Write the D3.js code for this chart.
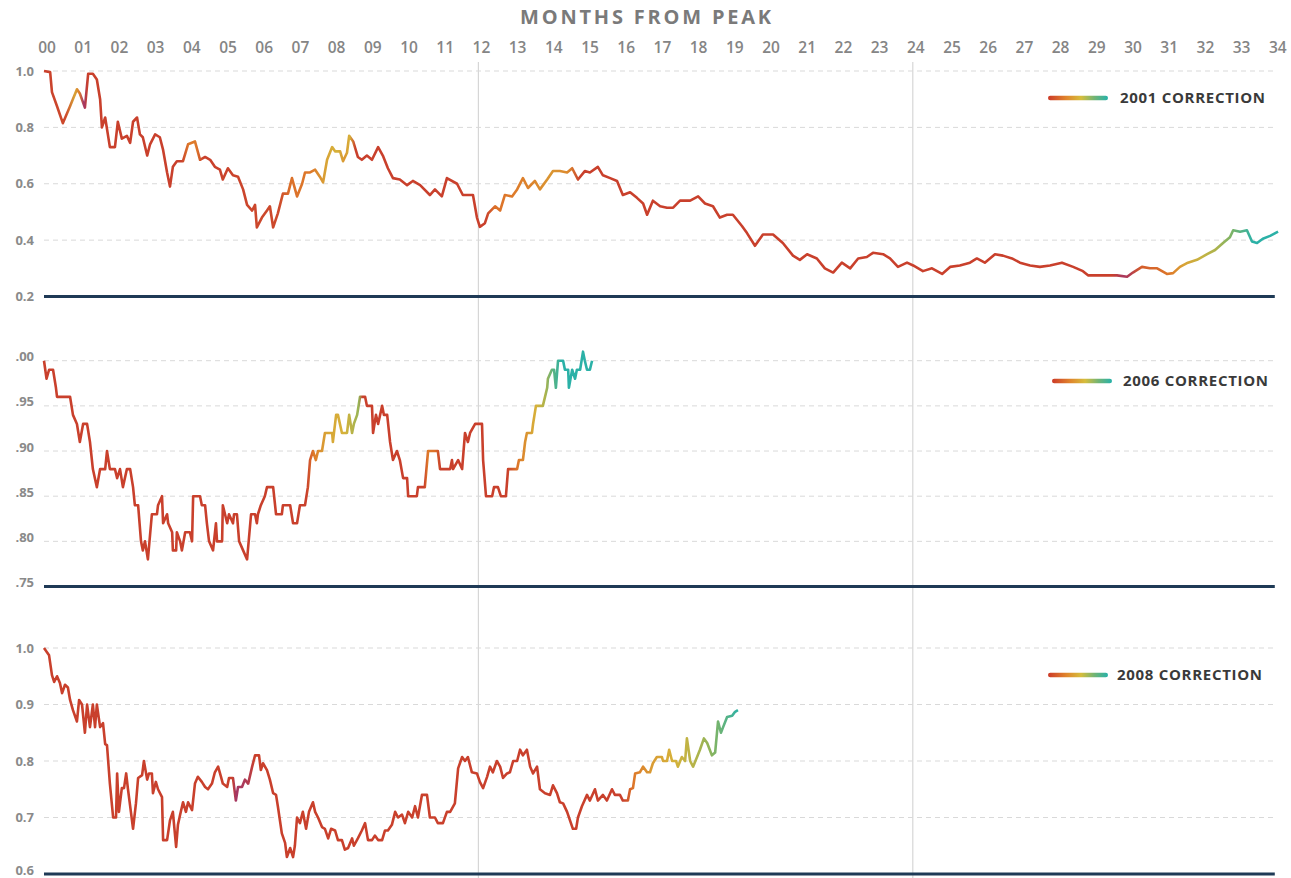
<!DOCTYPE html>
<html>
<head>
<meta charset="utf-8">
<script src="https://cdn.jsdelivr.net/npm/d3@7"></script>
<style>
  body { margin: 0; background: #fff; }
  svg { display: block; font-family: 'Open Sans', 'DejaVu Sans', sans-serif; }
</style>
</head>
<body>
<div id="chart"></div>
<script>
// months on the top axis
const monthTicks = d3.range(0, 35);
const monthLabels = monthTicks.map(m => d3.format('02d')(m));

// [months from peak, value relative to peak]
const series2001 = [
  [0.00,1.00],[0.17,0.996],[0.22,0.925],[0.36,0.875],[0.52,0.815],[0.72,0.875],[0.91,0.935],[0.99,0.92],
  [1.13,0.87],[1.22,0.99],[1.35,0.99],[1.46,0.97],[1.55,0.90],[1.60,0.80],[1.69,0.835],[1.82,0.73],
  [1.96,0.73],[2.04,0.82],[2.15,0.76],[2.29,0.77],[2.38,0.745],[2.46,0.82],[2.57,0.835],[2.65,0.775],
  [2.73,0.765],[2.85,0.70],[2.93,0.74],[3.07,0.775],[3.20,0.765],[3.29,0.72],[3.40,0.64],[3.48,0.59],
  [3.56,0.66],[3.67,0.68],[3.84,0.68],[3.98,0.74],[4.17,0.75],[4.31,0.685],[4.45,0.695],[4.59,0.685],
  [4.72,0.66],[4.86,0.65],[4.94,0.615],[5.08,0.655],[5.22,0.63],[5.36,0.625],[5.50,0.58],[5.61,0.525],
  [5.75,0.505],[5.83,0.525],[5.88,0.445],[6.02,0.48],[6.16,0.505],[6.24,0.52],[6.33,0.445],[6.46,0.495],
  [6.60,0.565],[6.74,0.565],[6.85,0.62],[6.99,0.555],[7.13,0.60],[7.21,0.64],[7.35,0.64],[7.49,0.65],
  [7.62,0.625],[7.71,0.605],[7.82,0.685],[7.96,0.73],[8.04,0.715],[8.18,0.715],[8.26,0.68],[8.37,0.71],
  [8.43,0.77],[8.54,0.75],[8.67,0.695],[8.78,0.685],[8.92,0.70],[9.06,0.685],[9.23,0.73],[9.36,0.70],
  [9.50,0.655],[9.64,0.62],[9.83,0.615],[10.03,0.595],[10.19,0.61],[10.39,0.595],[10.66,0.56],[10.80,0.58],
  [10.99,0.555],[11.13,0.62],[11.41,0.60],[11.57,0.56],[11.85,0.56],[11.96,0.48],[12.04,0.447],[12.18,0.46],
  [12.27,0.495],[12.46,0.52],[12.60,0.505],[12.73,0.56],[12.93,0.555],[13.07,0.58],[13.23,0.62],[13.37,0.585],
  [13.56,0.61],[13.70,0.58],[13.90,0.615],[14.06,0.645],[14.25,0.645],[14.45,0.64],[14.59,0.655],[14.75,0.615],
  [14.94,0.645],[15.08,0.64],[15.30,0.66],[15.44,0.63],[15.64,0.62],[15.83,0.61],[15.99,0.56],[16.19,0.57],
  [16.38,0.55],[16.55,0.53],[16.66,0.49],[16.82,0.54],[17.02,0.52],[17.21,0.515],[17.38,0.515],[17.57,0.54],
  [17.85,0.54],[18.07,0.555],[18.26,0.53],[18.48,0.52],[18.67,0.48],[18.87,0.49],[19.03,0.49],[19.28,0.45],
  [19.42,0.425],[19.64,0.38],[19.86,0.42],[20.14,0.42],[20.41,0.39],[20.69,0.345],[20.88,0.33],[21.08,0.35],
  [21.35,0.335],[21.57,0.30],[21.80,0.285],[22.04,0.32],[22.27,0.30],[22.49,0.335],[22.73,0.34],[22.90,0.355],
  [23.18,0.35],[23.37,0.335],[23.59,0.305],[23.84,0.32],[24.01,0.31],[24.28,0.29],[24.53,0.30],[24.81,0.28],
  [25.03,0.305],[25.30,0.31],[25.58,0.32],[25.77,0.335],[25.99,0.32],[26.27,0.35],[26.49,0.345],[26.74,0.335],
  [26.96,0.32],[27.24,0.31],[27.51,0.305],[27.79,0.31],[28.12,0.32],[28.43,0.305],[28.70,0.29],[28.84,0.275],
  [29.09,0.275],[29.36,0.275],[29.64,0.275],[29.92,0.27],[30.08,0.285],[30.33,0.305],[30.55,0.30],[30.75,0.30],
  [31.02,0.28],[31.19,0.283],[31.38,0.305],[31.60,0.32],[31.85,0.33],[32.13,0.35],[32.35,0.365],[32.57,0.39],
  [32.76,0.41],[32.85,0.435],[33.04,0.43],[33.23,0.435],[33.37,0.395],[33.51,0.39],[33.67,0.405],[33.87,0.415],
  [34.09,0.43]
];

const series2006 = [
  [0.00,1.00],[0.07,0.98],[0.14,0.99],[0.25,0.99],[0.33,0.97],[0.36,0.96],[0.72,0.96],[0.80,0.94],
  [0.91,0.93],[0.99,0.91],[1.08,0.93],[1.19,0.93],[1.27,0.91],[1.35,0.88],[1.46,0.86],[1.55,0.88],
  [1.69,0.88],[1.74,0.90],[1.82,0.88],[1.96,0.88],[2.02,0.87],[2.10,0.88],[2.18,0.86],[2.29,0.88],
  [2.38,0.88],[2.46,0.86],[2.51,0.84],[2.60,0.84],[2.68,0.80],[2.73,0.79],[2.79,0.80],[2.87,0.78],
  [2.98,0.83],[3.12,0.83],[3.15,0.84],[3.26,0.85],[3.29,0.82],[3.40,0.83],[3.43,0.82],[3.54,0.81],
  [3.56,0.79],[3.65,0.79],[3.67,0.81],[3.76,0.80],[3.81,0.79],[3.90,0.81],[4.03,0.81],[4.09,0.80],
  [4.12,0.85],[4.31,0.85],[4.36,0.84],[4.45,0.84],[4.50,0.82],[4.56,0.80],[4.67,0.79],[4.75,0.82],
  [4.78,0.80],[4.92,0.80],[4.94,0.84],[5.06,0.82],[5.11,0.83],[5.22,0.82],[5.25,0.83],[5.33,0.83],
  [5.39,0.80],[5.50,0.79],[5.61,0.78],[5.72,0.83],[5.83,0.83],[5.88,0.82],[5.91,0.83],[5.99,0.84],
  [6.10,0.85],[6.16,0.86],[6.33,0.86],[6.41,0.83],[6.57,0.83],[6.60,0.84],[6.80,0.84],[6.88,0.82],
  [6.99,0.82],[7.07,0.84],[7.21,0.84],[7.29,0.86],[7.35,0.89],[7.43,0.90],[7.51,0.89],[7.57,0.90],
  [7.68,0.90],[7.76,0.92],[7.96,0.92],[7.98,0.91],[8.07,0.94],[8.12,0.94],[8.23,0.92],[8.37,0.92],
  [8.43,0.94],[8.51,0.92],[8.56,0.93],[8.65,0.94],[8.73,0.96],[8.87,0.96],[8.92,0.95],[9.06,0.95],
  [9.09,0.92],[9.17,0.94],[9.23,0.93],[9.34,0.95],[9.39,0.94],[9.48,0.94],[9.56,0.91],[9.64,0.89],
  [9.75,0.90],[9.83,0.89],[9.92,0.87],[10.03,0.87],[10.06,0.85],[10.30,0.85],[10.33,0.86],[10.52,0.86],
  [10.61,0.90],[10.88,0.90],[10.94,0.88],[11.22,0.88],[11.27,0.89],[11.30,0.88],[11.44,0.89],[11.55,0.88],
  [11.63,0.92],[11.71,0.91],[11.77,0.92],[11.91,0.93],[12.10,0.93],[12.13,0.89],[12.21,0.85],[12.38,0.85],
  [12.43,0.86],[12.54,0.86],[12.62,0.85],[12.76,0.85],[12.82,0.88],[13.07,0.88],[13.12,0.89],[13.23,0.89],
  [13.29,0.91],[13.34,0.92],[13.48,0.92],[13.51,0.93],[13.59,0.95],[13.78,0.95],[13.84,0.96],[13.90,0.97],
  [13.92,0.98],[14.03,0.99],[14.09,0.99],[14.14,0.97],[14.20,1.00],[14.34,1.00],[14.39,0.99],[14.48,0.99],
  [14.50,0.97],[14.59,0.99],[14.67,0.98],[14.72,0.99],[14.81,0.99],[14.89,1.01],[14.94,1.00],[15.00,0.99],
  [15.08,0.99],[15.14,1.00]
];

const series2008 = [
  [0.00,1.00],[0.14,0.987],[0.22,0.952],[0.28,0.94],[0.36,0.95],[0.44,0.938],[0.50,0.92],[0.58,0.935],
  [0.66,0.93],[0.72,0.908],[0.80,0.89],[0.91,0.87],[0.97,0.908],[1.05,0.90],[1.13,0.85],[1.19,0.90],
  [1.27,0.86],[1.35,0.90],[1.41,0.86],[1.46,0.90],[1.55,0.86],[1.63,0.867],[1.69,0.83],[1.74,0.828],
  [1.82,0.76],[1.91,0.70],[1.99,0.70],[2.02,0.778],[2.07,0.71],[2.15,0.752],[2.21,0.752],[2.27,0.778],
  [2.32,0.75],[2.38,0.72],[2.46,0.68],[2.54,0.725],[2.60,0.77],[2.71,0.775],[2.76,0.80],[2.85,0.767],
  [2.90,0.778],[2.98,0.778],[3.01,0.743],[3.09,0.763],[3.15,0.75],[3.26,0.736],[3.29,0.66],[3.40,0.66],
  [3.48,0.695],[3.56,0.71],[3.65,0.648],[3.70,0.687],[3.76,0.705],[3.84,0.727],[3.92,0.71],[3.98,0.727],
  [4.09,0.713],[4.17,0.76],[4.25,0.772],[4.36,0.763],[4.45,0.754],[4.53,0.75],[4.64,0.76],[4.72,0.78],
  [4.81,0.79],[4.89,0.772],[4.94,0.76],[5.06,0.754],[5.11,0.77],[5.22,0.77],[5.30,0.73],[5.36,0.754],
  [5.47,0.754],[5.55,0.767],[5.64,0.76],[5.75,0.79],[5.83,0.81],[5.94,0.81],[5.99,0.784],[6.05,0.796],
  [6.16,0.784],[6.24,0.767],[6.33,0.743],[6.41,0.74],[6.46,0.72],[6.57,0.672],[6.66,0.655],[6.71,0.63],
  [6.80,0.646],[6.88,0.63],[6.93,0.65],[6.99,0.70],[7.07,0.69],[7.15,0.71],[7.24,0.68],[7.32,0.71],
  [7.43,0.727],[7.49,0.71],[7.57,0.70],[7.68,0.683],[7.76,0.68],[7.85,0.663],[7.93,0.68],[8.04,0.677],
  [8.12,0.66],[8.23,0.66],[8.31,0.643],[8.40,0.646],[8.51,0.663],[8.56,0.65],[8.67,0.663],[8.78,0.677],
  [8.87,0.69],[8.95,0.66],[9.06,0.66],[9.14,0.668],[9.23,0.66],[9.34,0.66],[9.42,0.677],[9.50,0.677],
  [9.61,0.687],[9.70,0.71],[9.78,0.70],[9.89,0.705],[9.97,0.69],[10.06,0.71],[10.17,0.70],[10.25,0.72],
  [10.33,0.70],[10.44,0.74],[10.58,0.74],[10.66,0.70],[10.80,0.70],[10.88,0.69],[11.02,0.69],[11.13,0.71],
  [11.22,0.71],[11.35,0.725],[11.44,0.787],[11.55,0.807],[11.63,0.80],[11.71,0.807],[11.82,0.78],[11.96,0.778],
  [12.04,0.763],[12.13,0.752],[12.24,0.772],[12.32,0.79],[12.40,0.78],[12.51,0.80],[12.60,0.79],[12.68,0.77],
  [12.79,0.778],[12.87,0.78],[12.96,0.80],[13.07,0.80],[13.15,0.82],[13.23,0.81],[13.34,0.82],[13.43,0.79],
  [13.51,0.778],[13.62,0.79],[13.70,0.75],[13.84,0.743],[13.98,0.74],[14.06,0.757],[14.17,0.743],[14.25,0.727],
  [14.34,0.725],[14.45,0.71],[14.53,0.695],[14.61,0.68],[14.70,0.68],[14.75,0.70],[14.86,0.72],[15.00,0.74],
  [15.08,0.73],[15.22,0.75],[15.30,0.73],[15.44,0.74],[15.55,0.73],[15.69,0.75],[15.77,0.74],[15.91,0.74],
  [15.99,0.73],[16.13,0.73],[16.19,0.75],[16.27,0.752],[16.33,0.778],[16.46,0.78],[16.55,0.79],[16.66,0.78],
  [16.74,0.78],[16.82,0.796],[16.93,0.807],[17.07,0.807],[17.10,0.80],[17.21,0.80],[17.27,0.82],[17.35,0.80],
  [17.46,0.80],[17.51,0.79],[17.62,0.807],[17.71,0.80],[17.76,0.84],[17.85,0.80],[17.93,0.79],[18.04,0.807],
  [18.12,0.82],[18.23,0.84],[18.32,0.832],[18.45,0.81],[18.54,0.815],[18.62,0.87],[18.70,0.85],[18.76,0.86],
  [18.87,0.878],[19.01,0.88],[19.09,0.887],[19.17,0.89]
];

// colour variable along each line: [month, t]  (-1 purple, 0 red, 0.5 yellow, 1 teal)
const colour2001 = [
  [0,0],[0.6,0.05],[0.85,0.45],[0.98,0.3],[1.1,-0.9],[1.2,0],[3.8,0],[4.0,0.3],[4.2,0.3],[4.4,0],
  [6.5,0.05],[6.8,0.25],[7.4,0.3],[7.8,0.45],[8.1,0.5],[8.3,0.4],[8.45,0.5],[8.6,0],[12.2,0],[12.45,0.25],
  [12.9,0.3],[13.5,0.34],[14.0,0.4],[14.5,0.35],[14.8,0],[29.5,0],[29.8,-0.7],[30.0,-0.5],[30.3,0.15],
  [30.8,0.22],[31.1,0.3],[31.5,0.45],[32.0,0.55],[32.4,0.62],[32.8,0.75],[33.15,0.9],[33.4,1.0],[34.2,1.0]
];
const colour2006 = [
  [0,0],[7.25,0],[7.45,0.3],[7.8,0.45],[8.3,0.5],[8.55,0.6],[8.7,0.68],[8.8,0],[10.5,0],[10.6,0.3],
  [10.8,0.25],[10.95,0],[12.8,0],[13.1,0.3],[13.4,0.42],[13.6,0.5],[13.85,0.62],[14.05,0.85],[14.3,1.0],[15.2,1.0]
];
const colour2008 = [
  [0,0],[5.2,0],[5.3,-0.8],[5.55,-0.6],[5.7,-0.4],[5.8,0],[16.0,0],[16.3,0.3],[16.8,0.42],[17.4,0.5],
  [18.0,0.6],[18.4,0.7],[18.8,0.85],[19.2,1.0]
];

const ticks2001 = [0.2, 0.4, 0.6, 0.8, 1.0];
const labels2001 = ['0.2', '0.4', '0.6', '0.8', '1.0'];
const ticks2006 = [0.75, 0.80, 0.85, 0.90, 0.95, 1.00];
const labels2006 = ['.75', '.80', '.85', '.90', '.95', '.00'];
const ticks2008 = [0.6, 0.7, 0.8, 0.9, 1.0];
const labels2008 = ['0.6', '0.7', '0.8', '0.9', '1.0'];

const legendNames = ['2001 CORRECTION', '2006 CORRECTION', '2008 CORRECTION'];

const width = 1291, height = 878;

const svg = d3.select('#chart')
  .append('svg')
  .attr('width', width)
  .attr('height', height);

const defs = svg.append('defs');

// x scale shared by all three panels
const x = d3.scaleLinear().domain([0, 34]).range([44, 1274.8]);

// colour ramp for the line
const colourScale = d3.scaleLinear()
  .domain([-1, 0, 0.3, 0.5, 0.7, 1])
  .range(['#9b3573', '#c9402c', '#de7a2a', '#d6b23a', '#8eb45a', '#2bb1a7'])
  .interpolate(d3.interpolateRgb)
  .clamp(true);

// vertical guides at 12 and 24 months
svg.selectAll('.vline')
  .data([12, 24])
  .enter().append('line')
  .attr('x1', d => x(d)).attr('x2', d => x(d))
  .attr('y1', 62).attr('y2', height)
  .attr('stroke', '#d6d6d6')
  .attr('stroke-width', 1.2);

// top axis title + month labels
svg.append('text')
  .attr('x', 647).attr('y', 24)
  .attr('text-anchor', 'middle')
  .attr('fill', '#7a7a7a')
  .attr('font-size', 20)
  .attr('font-weight', 700)
  .attr('letter-spacing', 2.8)
  .text('MONTHS FROM PEAK');

svg.selectAll('.mlabel')
  .data(monthTicks)
  .enter().append('text')
  .attr('x', d => x(d) + 3)
  .attr('y', 53)
  .attr('text-anchor', 'middle')
  .attr('fill', '#858585')
  .attr('font-size', 15.5)
  .attr('font-weight', 600)
  .text((d, i) => monthLabels[i]);

const panels = [
  { data: series2001, colour: colour2001, domain: [0.2, 1.0], ticks: ticks2001, labels: labels2001,
    range: [296.5, 71], labelShift: 0, legendX: 1048, legendTextX: 1120, legendY: 98 },
  { data: series2006, colour: colour2006, domain: [0.75, 1.00], ticks: ticks2006, labels: labels2006,
    range: [586.5, 360.7], labelShift: -4, legendX: 1052, legendTextX: 1123, legendY: 381 },
  { data: series2008, colour: colour2008, domain: [0.6, 1.0], ticks: ticks2008, labels: labels2008,
    range: [874, 648], labelShift: 0, legendX: 1048, legendTextX: 1117, legendY: 675 }
];

panels.forEach((p, i) => {
  const y = d3.scaleLinear().domain(p.domain).range(p.range);
  const g = svg.append('g').attr('class', 'panel');

  // dashed gridlines (above the base tick)
  g.selectAll('.grid')
    .data(p.ticks.slice(1))
    .enter().append('line')
    .attr('x1', x(0)).attr('x2', x(34))
    .attr('y1', d => y(d)).attr('y2', d => y(d))
    .attr('stroke', '#d9d9d9')
    .attr('stroke-dasharray', '5,4')
    .attr('stroke-width', 1);

  // y labels (keep the lowest one inside the picture)
  g.selectAll('.ylabel')
    .data(p.ticks)
    .enter().append('text')
    .attr('x', 34)
    .attr('y', d => Math.min(y(d) + p.labelShift, height - 8))
    .attr('dy', '0.35em')
    .attr('text-anchor', 'end')
    .attr('fill', '#8a8a8a')
    .attr('font-size', 13)
    .attr('font-weight', 700)
    .text((d, j) => p.labels[j]);

  // gradient that follows the colour variable along x
  const x0 = x(0), x1 = x(34.2);
  const grad = defs.append('linearGradient')
    .attr('id', 'lineGrad' + i)
    .attr('gradientUnits', 'userSpaceOnUse')
    .attr('x1', x0).attr('x2', x1)
    .attr('y1', 0).attr('y2', 0);
  grad.selectAll('stop')
    .data(p.colour)
    .enter().append('stop')
    .attr('offset', d => (x(d[0]) - x0) / (x1 - x0))
    .attr('stop-color', d => colourScale(d[1]));

  const line = d3.line()
    .x(d => x(d[0]))
    .y(d => y(d[1]));

  g.append('path')
    .datum(p.data)
    .attr('fill', 'none')
    .attr('stroke', `url(#lineGrad${i})`)
    .attr('stroke-width', 2.6)
    .attr('stroke-linejoin', 'round')
    .attr('d', line);

  // solid base line
  g.append('line')
    .attr('x1', x(0)).attr('x2', x(34))
    .attr('y1', y(p.domain[0])).attr('y2', y(p.domain[0]))
    .attr('stroke', '#1f3a56')
    .attr('stroke-width', 3);

  // legend
  const lg = defs.append('linearGradient').attr('id', 'legGrad' + i);
  lg.selectAll('stop')
    .data([[0, '#cc3a28'], [0.3, '#e0842c'], [0.55, '#d6bd3c'], [0.78, '#6fb476'], [1, '#27b2aa']])
    .enter().append('stop')
    .attr('offset', d => d[0])
    .attr('stop-color', d => d[1]);

  g.append('rect')
    .attr('x', p.legendX).attr('y', p.legendY - 2.2)
    .attr('width', 60).attr('height', 4.4)
    .attr('rx', 2.2)
    .attr('fill', `url(#legGrad${i})`);

  g.append('text')
    .attr('x', p.legendTextX).attr('y', p.legendY)
    .attr('dy', '0.36em')
    .attr('fill', '#3a3a3a')
    .attr('font-size', 15)
    .attr('font-weight', 700)
    .attr('letter-spacing', 0.7)
    .text(legendNames[i]);
});
</script>
</body>
</html>
